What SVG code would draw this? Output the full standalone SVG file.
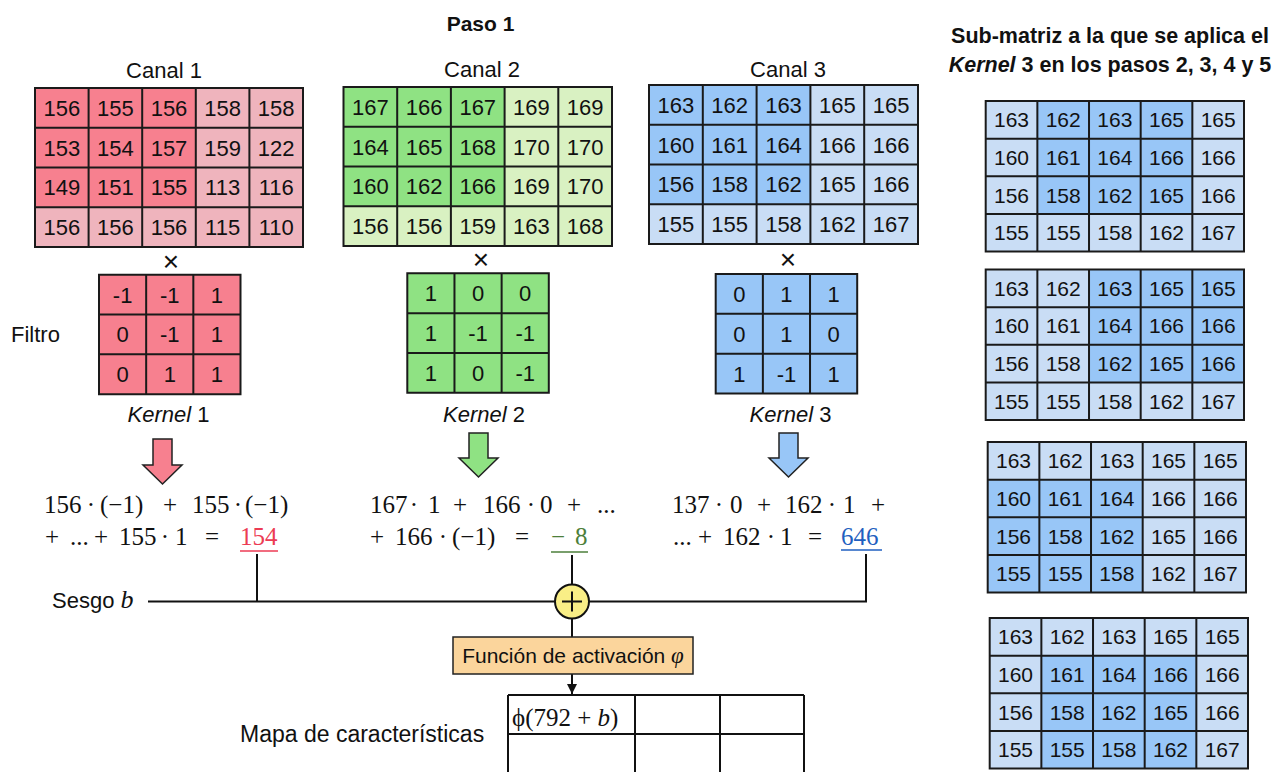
<svg xmlns="http://www.w3.org/2000/svg" width="1274" height="772" viewBox="0 0 1274 772">
<style>
.s{font-family:"Liberation Sans",Arial,sans-serif;fill:#111}
.lbl{font-size:22px}
.num{font-size:22px;text-anchor:middle}
.numr{font-size:21px;text-anchor:middle}
.bold{font-weight:bold}
.x{font-size:28px;text-anchor:middle}
.m{font-family:"Liberation Serif","Times New Roman",serif;font-size:25px;fill:#111}
.d{text-anchor:middle}
.mid{text-anchor:middle}
.grid{fill:none;stroke:#1a1a1a;stroke-width:2}
.ln{fill:none;stroke:#111;stroke-width:2}
.r1d{fill:#f7808f}.r1l{fill:#efb4bd}
.g1d{fill:#8fe283}.g1l{fill:#d9f1c2}
.b1d{fill:#98c6f7}.b1l{fill:#c9ddf5}
.barrow{stroke:#222;stroke-width:1.5}
</style>
<defs>
<marker id="ah" viewBox="0 0 10 10" refX="10" refY="5" markerWidth="10" markerHeight="10" markerUnits="userSpaceOnUse" orient="auto"><path d="M0,0 L10,5 L0,10 z" fill="#111"/></marker>
</defs>
<rect width="1274" height="772" fill="#fff"/>

<text class="s bold mid" x="480.5" y="31" font-size="21">Paso 1</text>
<g id="titulo-derecha">
<text class="s bold mid" x="1110" y="43" font-size="21.5">Sub-matriz a la que se aplica el</text>
<text class="s bold mid" x="1110" y="72" font-size="21.5"><tspan font-style="italic">Kernel</tspan> 3 en los pasos 2, 3, 4 y 5</text>
</g>

<!-- Canal 1 -->
<g id="canal1">
<text class="s lbl mid" x="164" y="78">Canal 1</text>
<g transform="translate(35,88)">
<rect class="r1l" width="268" height="159"/>
<rect class="r1d" width="160.8" height="119.25"/>
<path class="grid" d="M0,0H268V159H0Z M53.6,0V159 M107.2,0V159 M160.8,0V159 M214.4,0V159 M0,39.75H268 M0,79.5H268 M0,119.25H268"/>
<text class="s num" y="27.9"><tspan x="26.8">156</tspan><tspan x="80.4">155</tspan><tspan x="134">156</tspan><tspan x="187.6">158</tspan><tspan x="241.2">158</tspan></text>
<text class="s num" y="67.6"><tspan x="26.8">153</tspan><tspan x="80.4">154</tspan><tspan x="134">157</tspan><tspan x="187.6">159</tspan><tspan x="241.2">122</tspan></text>
<text class="s num" y="107.4"><tspan x="26.8">149</tspan><tspan x="80.4">151</tspan><tspan x="134">155</tspan><tspan x="187.6">113</tspan><tspan x="241.2">116</tspan></text>
<text class="s num" y="147.1"><tspan x="26.8">156</tspan><tspan x="80.4">156</tspan><tspan x="134">156</tspan><tspan x="187.6">115</tspan><tspan x="241.2">110</tspan></text>
</g>
<text class="s x" x="171" y="271">×</text>
</g>

<!-- Canal 2 -->
<g id="canal2">
<text class="s lbl mid" x="482" y="77">Canal 2</text>
<g transform="translate(343.5,87)">
<rect class="g1l" width="268.5" height="159"/>
<rect class="g1d" width="161.1" height="119.25"/>
<path class="grid" d="M0,0H268.5V159H0Z M53.7,0V159 M107.4,0V159 M161.1,0V159 M214.8,0V159 M0,39.75H268.5 M0,79.5H268.5 M0,119.25H268.5"/>
<text class="s num" y="27.9"><tspan x="26.85">167</tspan><tspan x="80.55">166</tspan><tspan x="134.25">167</tspan><tspan x="187.95">169</tspan><tspan x="241.65">169</tspan></text>
<text class="s num" y="67.6"><tspan x="26.85">164</tspan><tspan x="80.55">165</tspan><tspan x="134.25">168</tspan><tspan x="187.95">170</tspan><tspan x="241.65">170</tspan></text>
<text class="s num" y="107.4"><tspan x="26.85">160</tspan><tspan x="80.55">162</tspan><tspan x="134.25">166</tspan><tspan x="187.95">169</tspan><tspan x="241.65">170</tspan></text>
<text class="s num" y="147.1"><tspan x="26.85">156</tspan><tspan x="80.55">156</tspan><tspan x="134.25">159</tspan><tspan x="187.95">163</tspan><tspan x="241.65">168</tspan></text>
</g>
<text class="s x" x="481" y="269">×</text>
</g>

<!-- Canal 3 -->
<g id="canal3">
<text class="s lbl mid" x="788" y="77">Canal 3</text>
<g transform="translate(649,85)">
<rect class="b1l" width="269" height="159"/>
<rect class="b1d" width="161.4" height="119.25"/>
<path class="grid" d="M0,0H269V159H0Z M53.8,0V159 M107.6,0V159 M161.4,0V159 M215.2,0V159 M0,39.75H269 M0,79.5H269 M0,119.25H269"/>
<text class="s num" y="27.9"><tspan x="26.9">163</tspan><tspan x="80.7">162</tspan><tspan x="134.5">163</tspan><tspan x="188.3">165</tspan><tspan x="242.1">165</tspan></text>
<text class="s num" y="67.6"><tspan x="26.9">160</tspan><tspan x="80.7">161</tspan><tspan x="134.5">164</tspan><tspan x="188.3">166</tspan><tspan x="242.1">166</tspan></text>
<text class="s num" y="107.4"><tspan x="26.9">156</tspan><tspan x="80.7">158</tspan><tspan x="134.5">162</tspan><tspan x="188.3">165</tspan><tspan x="242.1">166</tspan></text>
<text class="s num" y="147.1"><tspan x="26.9">155</tspan><tspan x="80.7">155</tspan><tspan x="134.5">158</tspan><tspan x="188.3">162</tspan><tspan x="242.1">167</tspan></text>
</g>
<text class="s x" x="788" y="269">×</text>
</g>

<text class="s lbl" x="11" y="342">Filtro</text>

<!-- Kernels -->
<g id="kernel1">
<g transform="translate(99,274.7)">
<rect class="r1d" width="141.5" height="119.5"/>
<path class="grid" d="M0,0H141.5V119.5H0Z M47.17,0V119.5 M94.33,0V119.5 M0,39.83H141.5 M0,79.67H141.5"/>
<text class="s num" y="27.9"><tspan x="23.6">-1</tspan><tspan x="70.75">-1</tspan><tspan x="117.9">1</tspan></text>
<text class="s num" y="67.7"><tspan x="23.6">0</tspan><tspan x="70.75">-1</tspan><tspan x="117.9">1</tspan></text>
<text class="s num" y="107.6"><tspan x="23.6">0</tspan><tspan x="70.75">1</tspan><tspan x="117.9">1</tspan></text>
</g>
<text class="s lbl mid" x="168.5" y="422"><tspan font-style="italic">Kernel</tspan> 1</text>
</g>
<g id="kernel2">
<g transform="translate(407.3,273.3)">
<rect class="g1d" width="141.5" height="119.5"/>
<path class="grid" d="M0,0H141.5V119.5H0Z M47.17,0V119.5 M94.33,0V119.5 M0,39.83H141.5 M0,79.67H141.5"/>
<text class="s num" y="27.9"><tspan x="23.6">1</tspan><tspan x="70.75">0</tspan><tspan x="117.9">0</tspan></text>
<text class="s num" y="67.7"><tspan x="23.6">1</tspan><tspan x="70.75">-1</tspan><tspan x="117.9">-1</tspan></text>
<text class="s num" y="107.6"><tspan x="23.6">1</tspan><tspan x="70.75">0</tspan><tspan x="117.9">-1</tspan></text>
</g>
<text class="s lbl mid" x="484" y="422"><tspan font-style="italic">Kernel</tspan> 2</text>
</g>
<g id="kernel3">
<g transform="translate(715.7,274)">
<rect class="b1d" width="141.5" height="119.5"/>
<path class="grid" d="M0,0H141.5V119.5H0Z M47.17,0V119.5 M94.33,0V119.5 M0,39.83H141.5 M0,79.67H141.5"/>
<text class="s num" y="27.9"><tspan x="23.6">0</tspan><tspan x="70.75">1</tspan><tspan x="117.9">1</tspan></text>
<text class="s num" y="67.7"><tspan x="23.6">0</tspan><tspan x="70.75">1</tspan><tspan x="117.9">0</tspan></text>
<text class="s num" y="107.6"><tspan x="23.6">1</tspan><tspan x="70.75">-1</tspan><tspan x="117.9">1</tspan></text>
</g>
<text class="s lbl mid" x="790.5" y="422"><tspan font-style="italic">Kernel</tspan> 3</text>
</g>

<!-- Equations -->
<g id="eq1">
<text class="m" y="513"><tspan x="44">156</tspan><tspan class="d" x="91">·</tspan><tspan x="100">(−1)</tspan><tspan x="163">+</tspan><tspan x="192">155</tspan><tspan class="d" x="238">·</tspan><tspan x="245">(−1)</tspan></text>
<text class="m" y="545"><tspan x="45">+</tspan><tspan x="70">...</tspan><tspan x="94">+</tspan><tspan x="119">155</tspan><tspan class="d" x="165">·</tspan><tspan x="175">1</tspan><tspan x="205">=</tspan><tspan x="240" fill="#ec3b54">154</tspan></text>
<path d="M240,551H278" stroke="#ec3b54" stroke-width="1.5"/>
</g>
<g id="eq2">
<text class="m" y="513"><tspan x="370">167</tspan><tspan class="d" x="414">·</tspan><tspan x="428">1</tspan><tspan x="453">+</tspan><tspan x="483">166</tspan><tspan class="d" x="531">·</tspan><tspan x="540">0</tspan><tspan x="567">+</tspan><tspan x="597">...</tspan></text>
<text class="m" y="545"><tspan x="370">+</tspan><tspan x="395">166</tspan><tspan class="d" x="443">·</tspan><tspan x="452">(−1)</tspan><tspan x="515">=</tspan><tspan x="551" fill="#4d7f3b">−</tspan><tspan x="575" fill="#4d7f3b">8</tspan></text>
<path d="M551,552H588" stroke="#4d7f3b" stroke-width="1.5"/>
</g>
<g id="eq3">
<text class="m" y="513"><tspan x="672">137</tspan><tspan class="d" x="719">·</tspan><tspan x="730">0</tspan><tspan x="757">+</tspan><tspan x="785">162</tspan><tspan class="d" x="832">·</tspan><tspan x="843">1</tspan><tspan x="871">+</tspan></text>
<text class="m" y="545"><tspan x="673">...</tspan><tspan x="698">+</tspan><tspan x="723">162</tspan><tspan class="d" x="771">·</tspan><tspan x="780">1</tspan><tspan x="808">=</tspan><tspan x="841" fill="#1f5fc0">646</tspan></text>
<path d="M841,550H882" stroke="#1f5fc0" stroke-width="1.5"/>
</g>

<g id="sesgo">
<text class="s lbl" x="52" y="608">Sesgo <tspan font-family="Liberation Serif,serif" font-style="italic" font-size="26">b</tspan></text>
</g>

<!-- Connectors -->
<g id="connectors">
<polygon class="r1d barrow" points="153,439 172,439 172,465 182,465 162.5,484 143,465 153,465"/>
<polygon class="g1d barrow" points="469,433 488,433 488,458 498,458 478.5,477 459,458 469,458"/>
<polygon class="b1d barrow" points="779,433 798,433 798,458 808,458 788.5,477 769,458 779,458"/>
<path class="ln" d="M257,554V601.5"/>
<path class="ln" d="M148,601.5H555"/>
<path class="ln" d="M589,601.5H866V554"/>
<path class="ln" d="M572,555V584"/>
<path class="ln" d="M572,618V637"/>
<path class="ln" d="M572,674V694" marker-end="url(#ah)"/>
</g>

<g id="suma">
<circle cx="572" cy="601.5" r="17" fill="#f9ee86" stroke="#111" stroke-width="2"/>
<path d="M562,601.5H582M572,591.5V611.5" stroke="#111" stroke-width="2"/>
</g>

<g id="activacion">
<rect x="453" y="637" width="240" height="37" fill="#fbd59c" stroke="#222" stroke-width="1.5"/>
<text class="s mid" x="573" y="663" font-size="21">Función de activación <tspan font-family="Liberation Serif,serif" font-style="italic" font-size="23">φ</tspan></text>
</g>

<g id="mapa">
<text class="s" x="240" y="742" font-size="23">Mapa de características</text>
<path class="ln" d="M508,695H804M508,734H804M508,695V772M635,695V772M720,695V772M804,695V772"/>
<text class="m" x="512" y="726" font-size="26">ϕ(792 + <tspan font-style="italic">b</tspan>)</text>
</g>

<!-- Right sub-matrices -->
<g id="submatriz2" transform="translate(985.7,101)">
<rect class="b1l" width="258.3" height="150.5"/>
<rect class="b1d" x="51.66" width="155" height="112.9"/>
<path class="grid" d="M0,0H258.3V150.5H0Z M51.66,0V150.5 M103.32,0V150.5 M154.98,0V150.5 M206.64,0V150.5 M0,37.63H258.3 M0,75.25H258.3 M0,112.88H258.3"/>
<text class="s numr" y="26.3"><tspan x="25.8">163</tspan><tspan x="77.5">162</tspan><tspan x="129.2">163</tspan><tspan x="180.8">165</tspan><tspan x="232.5">165</tspan></text>
<text class="s numr" y="63.9"><tspan x="25.8">160</tspan><tspan x="77.5">161</tspan><tspan x="129.2">164</tspan><tspan x="180.8">166</tspan><tspan x="232.5">166</tspan></text>
<text class="s numr" y="101.6"><tspan x="25.8">156</tspan><tspan x="77.5">158</tspan><tspan x="129.2">162</tspan><tspan x="180.8">165</tspan><tspan x="232.5">166</tspan></text>
<text class="s numr" y="139.2"><tspan x="25.8">155</tspan><tspan x="77.5">155</tspan><tspan x="129.2">158</tspan><tspan x="180.8">162</tspan><tspan x="232.5">167</tspan></text>
</g>
<g id="submatriz3" transform="translate(985.7,269.5)">
<rect class="b1l" width="258.3" height="150.5"/>
<rect class="b1d" x="103.32" width="155" height="112.9"/>
<path class="grid" d="M0,0H258.3V150.5H0Z M51.66,0V150.5 M103.32,0V150.5 M154.98,0V150.5 M206.64,0V150.5 M0,37.63H258.3 M0,75.25H258.3 M0,112.88H258.3"/>
<text class="s numr" y="26.3"><tspan x="25.8">163</tspan><tspan x="77.5">162</tspan><tspan x="129.2">163</tspan><tspan x="180.8">165</tspan><tspan x="232.5">165</tspan></text>
<text class="s numr" y="63.9"><tspan x="25.8">160</tspan><tspan x="77.5">161</tspan><tspan x="129.2">164</tspan><tspan x="180.8">166</tspan><tspan x="232.5">166</tspan></text>
<text class="s numr" y="101.6"><tspan x="25.8">156</tspan><tspan x="77.5">158</tspan><tspan x="129.2">162</tspan><tspan x="180.8">165</tspan><tspan x="232.5">166</tspan></text>
<text class="s numr" y="139.2"><tspan x="25.8">155</tspan><tspan x="77.5">155</tspan><tspan x="129.2">158</tspan><tspan x="180.8">162</tspan><tspan x="232.5">167</tspan></text>
</g>
<g id="submatriz4" transform="translate(987.7,442)">
<rect class="b1l" width="258.3" height="150.5"/>
<rect class="b1d" y="37.63" width="155" height="112.9"/>
<path class="grid" d="M0,0H258.3V150.5H0Z M51.66,0V150.5 M103.32,0V150.5 M154.98,0V150.5 M206.64,0V150.5 M0,37.63H258.3 M0,75.25H258.3 M0,112.88H258.3"/>
<text class="s numr" y="26.3"><tspan x="25.8">163</tspan><tspan x="77.5">162</tspan><tspan x="129.2">163</tspan><tspan x="180.8">165</tspan><tspan x="232.5">165</tspan></text>
<text class="s numr" y="63.9"><tspan x="25.8">160</tspan><tspan x="77.5">161</tspan><tspan x="129.2">164</tspan><tspan x="180.8">166</tspan><tspan x="232.5">166</tspan></text>
<text class="s numr" y="101.6"><tspan x="25.8">156</tspan><tspan x="77.5">158</tspan><tspan x="129.2">162</tspan><tspan x="180.8">165</tspan><tspan x="232.5">166</tspan></text>
<text class="s numr" y="139.2"><tspan x="25.8">155</tspan><tspan x="77.5">155</tspan><tspan x="129.2">158</tspan><tspan x="180.8">162</tspan><tspan x="232.5">167</tspan></text>
</g>
<g id="submatriz5" transform="translate(989.7,618)">
<rect class="b1l" width="258.3" height="150.5"/>
<rect class="b1d" x="51.66" y="37.63" width="155" height="112.9"/>
<path class="grid" d="M0,0H258.3V150.5H0Z M51.66,0V150.5 M103.32,0V150.5 M154.98,0V150.5 M206.64,0V150.5 M0,37.63H258.3 M0,75.25H258.3 M0,112.88H258.3"/>
<text class="s numr" y="26.3"><tspan x="25.8">163</tspan><tspan x="77.5">162</tspan><tspan x="129.2">163</tspan><tspan x="180.8">165</tspan><tspan x="232.5">165</tspan></text>
<text class="s numr" y="63.9"><tspan x="25.8">160</tspan><tspan x="77.5">161</tspan><tspan x="129.2">164</tspan><tspan x="180.8">166</tspan><tspan x="232.5">166</tspan></text>
<text class="s numr" y="101.6"><tspan x="25.8">156</tspan><tspan x="77.5">158</tspan><tspan x="129.2">162</tspan><tspan x="180.8">165</tspan><tspan x="232.5">166</tspan></text>
<text class="s numr" y="139.2"><tspan x="25.8">155</tspan><tspan x="77.5">155</tspan><tspan x="129.2">158</tspan><tspan x="180.8">162</tspan><tspan x="232.5">167</tspan></text>
</g>
</svg>
